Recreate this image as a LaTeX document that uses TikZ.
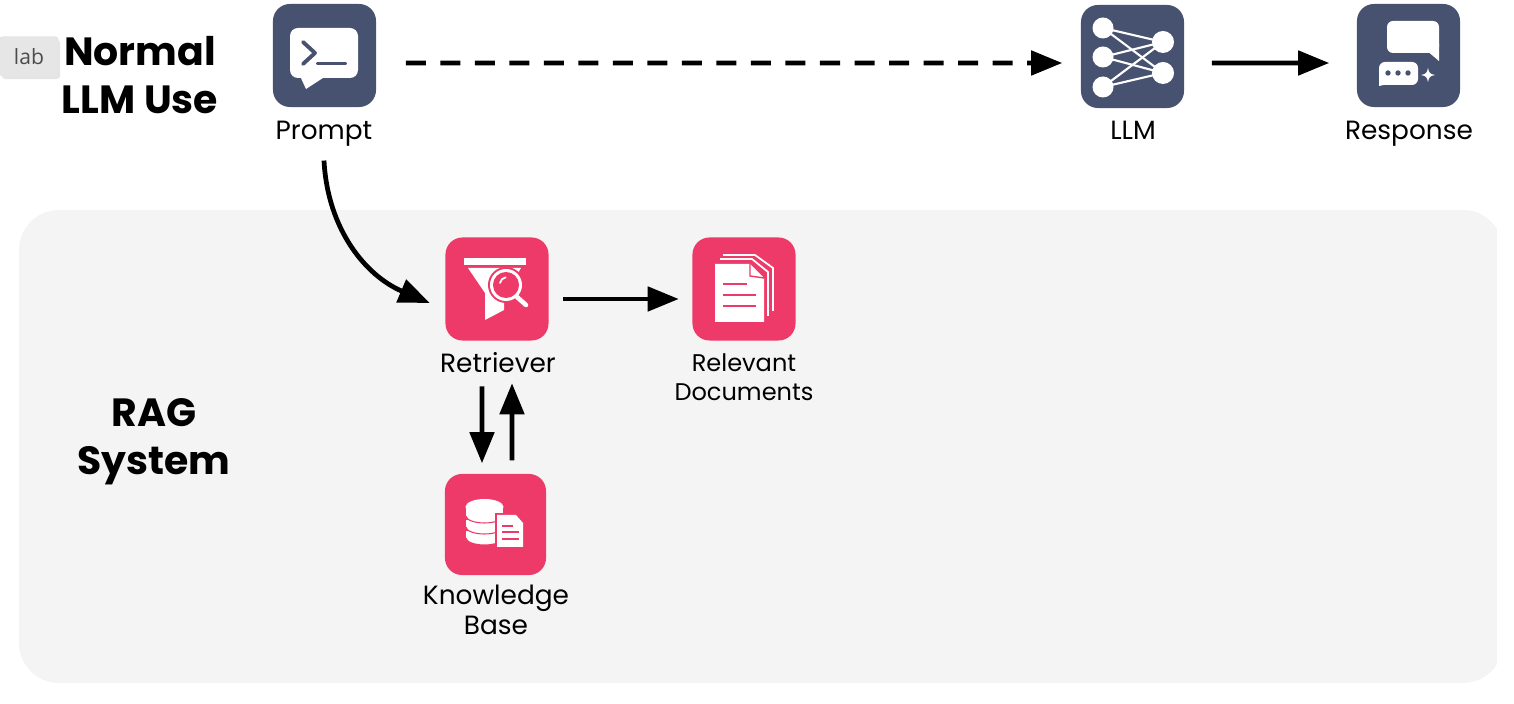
\documentclass[tikz,border=0pt]{standalone}
\usepackage{fontspec}
\setmainfont{Poppins}
\newfontfamily\chipfont{Open Sans}
\usetikzlibrary{arrows.meta,shadows}

\definecolor{slatetile}{HTML}{475270}
\definecolor{pinktile}{HTML}{EE3A68}
\definecolor{panelgray}{HTML}{F4F4F4}
\definecolor{chipgray}{HTML}{E6E6E6}

\tikzset{
  tile/.style={minimum size=1.03cm, inner sep=0pt, rounded corners=0.17cm},
  slate/.style={tile, fill=slatetile},
  pink/.style={tile, fill=pinktile},
  caption/.style={font=\fontsize{7.5}{8.6}\selectfont, align=center, inner sep=0pt, text=black},
  heading/.style={font=\fontsize{11.2}{13.6}\selectfont\bfseries, align=center, inner sep=0pt, text=black},
  flow/.style={draw=black, line width=1.35pt, -{Triangle[length=0.31cm, width=0.24cm]}}
}

\begin{document}
\begin{tikzpicture}[x=0.01cm, y=-0.01cm]
  \useasboundingbox (0, 0) rectangle (1514, 704);

  % panel, cut off on the right
  \begin{scope}
    \clip (0, 190) rectangle (1497, 704);
    \fill[panelgray, rounded corners=0.4cm] (19, 210) rectangle (1503, 683);
  \end{scope}

  \node[fill=chipgray, draw=black!10, rounded corners=0.03cm, minimum width=0.58cm, minimum height=0.39cm,
    inner sep=0pt, text=black!70, font=\chipfont\fontsize{6}{6}\selectfont,
    general shadow={fill=black, opacity=0.1, shadow xshift=0.02cm, shadow yshift=-0.03cm, scale=1.04}] (labchip) at (29, 56.5) {lab};

  \node[heading] (normal) at (140, 75) {Normal\\LLM Use};
  \node[heading] (rag) at (154, 441.5) {RAG\\System};

  \node[slate] (prompt) at (324.5, 55.5) {};
  \node[slate] (llm) at (1132.5, 56.5) {};
  \node[slate] (response) at (1408.5, 55.5) {};
  \node[pink] (retriever) at (497, 289) {};
  \node[pink] (docs) at (744, 289) {};
  \node[pink, minimum size=1.01cm] (kb) at (495.5, 524.5) {};

  \node[caption, anchor=base] (promptlabel) at (324, 140) {Prompt};
  \node[caption, anchor=base] (llmlabel) at (1133, 140) {LLM};
  \node[caption, anchor=base] (responselabel) at (1409, 140) {Response};
  \node[caption, anchor=base] (retrieverlabel) at (498, 373) {Retriever};
  \node[caption, font=\fontsize{6.85}{8.25}\selectfont] (docslabel) at (744, 377) {Relevant\\Documents};
  \node[caption] (kblabel) at (496, 610) {Knowledge\\Base};

  % arrows
  \draw[flow, dashed, dash pattern=on 0.2cm off 0.145cm, shorten <=0.29cm, shorten >=0.18cm] ([yshift=-0.075cm]prompt.east) -- ([yshift=-0.065cm]llm.west);
  \draw[flow, shorten <=0.27cm, shorten >=0.27cm] ([yshift=-0.065cm]llm.east) -- ([yshift=-0.075cm]response.west);
  \draw[flow, shorten <=0.14cm, shorten >=0.13cm] ([yshift=-0.1cm]retriever.east) -- ([yshift=-0.1cm]docs.west);
  \draw[flow] ([yshift=-0.13cm]promptlabel.south) to[out=-87, in=157] ([xshift=-0.15cm, yshift=-0.14cm]retriever.west);
  \draw[flow, shorten <=0.45cm, shorten >=0.10cm] ([xshift=-0.15cm]retriever.south) -- ([xshift=-0.135cm]kb.north);
  \draw[flow, shorten <=0.13cm, shorten >=0.42cm] ([xshift=0.165cm]kb.north) -- ([xshift=0.15cm]retriever.south);

  % prompt icon
  \fill[white, rounded corners=0.08cm] (290, 28) rectangle (358, 78);
  \fill[white] (300, 76) -- (306, 89) -- (326, 76) -- cycle;
  \draw[slatetile, line width=1.1pt, line cap=round, line join=round] (303, 42) -- (315, 53) -- (303, 64);
  \draw[slatetile, line width=1.1pt, line cap=round] (318, 63.5) -- (345, 63.5);

  % llm icon
  \foreach \ly in {28, 57, 87} {
    \foreach \ry in {42, 73} {
      \draw[white, line width=0.6pt] (1103, \ly) -- (1163, \ry);
    }
    \fill[white] (1103, \ly) circle (0.105cm);
  }
  \foreach \ry in {42, 73} {
    \fill[white] (1163, \ry) circle (0.11cm);
  }

  % response icon
  \fill[white, rounded corners=0.06cm] (1387, 21) rectangle (1439, 53);
  \fill[white] (1426, 50) -- (1439, 44) -- (1439, 61) -- cycle;
  \fill[white, rounded corners=0.06cm] (1379, 62) rectangle (1418, 85);
  \fill[white] (1379, 72) -- (1379, 86) -- (1388, 84) -- cycle;
  \foreach \dx in {1388, 1398, 1408} {
    \fill[slatetile] (\dx, 73) circle (0.027cm);
  }
  \fill[white] (1428, 68) .. controls (1429, 73) and (1430, 74) .. (1435, 75) .. controls (1430, 76) and (1429, 77) .. (1428, 82) .. controls (1427, 77) and (1426, 76) .. (1421, 75) .. controls (1426, 74) and (1427, 73) .. cycle;

  % retriever icon
  \fill[white] (464, 258) rectangle (526, 265);
  \fill[white] (468, 268) -- (521, 268) -- (504, 296) -- (504, 310) -- (485, 320) -- (485, 293) -- cycle;
  \fill[pinktile] (506, 285) circle (0.18cm);
  \draw[pinktile, line width=2.2pt, line cap=round] (517, 297) -- (526, 305);
  \fill[white] (506, 285) circle (0.16cm);
  \fill[pinktile] (506, 285) circle (0.13cm);
  \draw[white, line width=0.5pt, line cap=round] (500, 283) arc (170:100:0.07cm);
  \draw[white, line width=1.3pt, line cap=round] (517, 297) -- (526, 305);

  % documents icon
  \draw[white, line width=0.5pt] (723, 255) -- (755, 255) -- (773, 268) -- (773, 311);
  \draw[white, line width=0.5pt] (720, 259) -- (752, 259) -- (768, 272) -- (768, 316);
  \fill[white] (715, 264) -- (750, 264) -- (764, 278) -- (764, 322) -- (715, 322) -- cycle;
  \draw[pinktile, line width=0.4pt] (750, 264) -- (750, 276) -- (764, 278);
  \draw[pinktile, line width=0.5pt] (723, 284) -- (747, 284);
  \draw[pinktile, line width=0.5pt] (723, 295) -- (756, 295);
  \draw[pinktile, line width=0.5pt] (723, 306) -- (756, 306);

  % knowledge base icon
  \foreach \by in {538, 527, 516} {
    \fill[white] (466, \by - 7) rectangle (503, \by);
    \fill[white] (484.5, \by) ellipse (0.185cm and 0.07cm);
    \draw[pinktile, line width=0.3pt] (466, \by) arc (180:360:0.185cm and 0.07cm);
  }
  \fill[white] (484.5, 507) ellipse (0.19cm and 0.08cm);
  \fill[pinktile] (495, 513) rectangle (525, 549);
  \fill[white] (497, 515) -- (516, 515) -- (523, 523) -- (523, 547) -- (497, 547) -- cycle;
  \draw[pinktile, line width=0.45pt] (502, 526) -- (513, 526);
  \draw[pinktile, line width=0.45pt] (502, 532) -- (519, 532);
  \draw[pinktile, line width=0.45pt] (502, 539) -- (519, 539);
\end{tikzpicture}
\end{document}
